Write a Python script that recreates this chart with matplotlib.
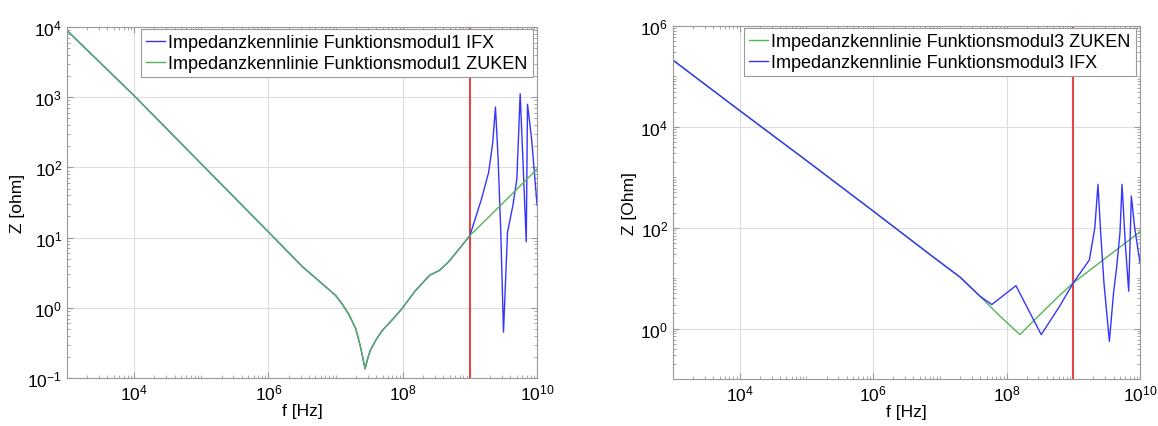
import matplotlib
matplotlib.use("Agg")
import matplotlib.pyplot as plt
from matplotlib.ticker import LogLocator, NullFormatter

plt.rcParams['font.family'] = ['Liberation Sans', 'DejaVu Sans']
plt.rcParams['mathtext.fontset'] = 'custom'
plt.rcParams['mathtext.rm'] = 'Liberation Sans'
plt.rcParams['mathtext.it'] = 'Liberation Sans:italic'

# Funktionsmodul1 (left)
f1_zuken = [1e3, 1e4, 1e5, 1e6, 3.16e6, 6.3e6, 1e7, 1.26e7, 1.58e7, 2e7, 2.34e7, 2.75e7,
            3.0e7, 3.3e7, 4.0e7, 4.9e7, 7.1e7, 9.8e7, 1.5e8, 2.5e8, 3.5e8, 4.8e8,
            6.9e8, 1e9, 3.16e9, 1e10]
z1_zuken = [8900, 1050, 112, 12, 3.9, 2.2, 1.5, 1.12, 0.8, 0.5, 0.28, 0.135,
            0.19, 0.25, 0.35, 0.47, 0.69, 0.98, 1.7, 2.9, 3.4, 4.5,
            6.9, 10.7, 31.6, 95]
f1_ifx = [1e3, 1e4, 1e5, 1e6, 3.16e6, 6.3e6, 1e7, 1.26e7, 1.58e7, 2e7, 2.34e7, 2.75e7,
          3.0e7, 3.3e7, 4.0e7, 4.9e7, 7.1e7, 9.8e7, 1.5e8, 2.5e8, 3.5e8, 4.8e8,
          6.9e8, 1e9, 1.48e9, 1.9e9, 2.19e9, 2.4e9, 2.63e9, 2.88e9, 3.16e9, 3.63e9,
          4.37e9, 5.0e9, 5.6e9, 6.2e9, 6.9e9, 7.2e9, 8.3e9, 1e10]
z1_ifx = [8900, 1050, 112, 12, 3.9, 2.2, 1.5, 1.12, 0.8, 0.5, 0.28, 0.135,
          0.19, 0.25, 0.35, 0.47, 0.69, 0.98, 1.7, 2.9, 3.4, 4.5,
          6.9, 10.7, 35, 85, 229, 724, 132, 12, 0.45, 12,
          29, 69, 1120, 107, 8.7, 794, 251, 29]

# Funktionsmodul3 (right)
f3_zuken = [1e3, 1e4, 1e5, 1e6, 7.08e6, 2e7, 3.98e7, 7.9e7, 1.58e8, 3.16e8, 5.6e8,
            1e9, 3.16e9, 1e10]
z3_zuken = [2.1e5, 2.1e4, 2150, 214, 29.5, 10.5, 4.4, 1.78, 0.76, 1.9, 4.0,
            8.1, 26, 83]
f3_ifx = [1e3, 1e4, 1e5, 1e6, 7.08e6, 2e7, 3.98e7, 6.0e7, 1.38e8, 3.3e8, 6.2e8,
          1e9, 1.74e9, 2.1e9, 2.34e9, 2.57e9, 2.88e9, 3.47e9, 4.0e9, 4.47e9, 5.0e9,
          5.37e9, 6.0e9, 6.76e9, 7.4e9, 8.3e9, 1e10]
z3_ifx = [2.1e5, 2.1e4, 2150, 214, 29.5, 10.5, 4.4, 3.0, 7.1, 0.76, 2.75,
          8.1, 23, 100, 724, 79, 7.9, 0.56, 5.0, 17, 79,
          724, 50, 5.5, 427, 100, 20]

f_marker = 1e9

BLUE = '#3535ff'
GREEN = '#55b555'
RED = '#e04848'


def style_axes(ax, ylim, yticks, ylabel):
    ax.set_xscale('log')
    ax.set_yscale('log')
    ax.set_xlim(1e3, 1e10)
    ax.set_ylim(*ylim)
    ax.set_xticks([1e4, 1e6, 1e8, 1e10])
    ax.xaxis.set_minor_locator(LogLocator(base=10, subs='all', numticks=20))
    ax.xaxis.set_minor_formatter(NullFormatter())
    ax.set_yticks(yticks)
    ax.yaxis.set_minor_locator(LogLocator(base=10, subs='all', numticks=20))
    ax.yaxis.set_minor_formatter(NullFormatter())
    ax.grid(True, which='major', color='#dddddd', linewidth=0.8)
    ax.tick_params(which='both', direction='in', top=True, right=True,
                   colors='#999999', labelcolor='black', labelsize=12.5)
    ax.tick_params(which='minor', length=2)
    ax.tick_params(which='major', length=4)
    for s in ax.spines.values():
        s.set_color('#999999')
    ax.set_xlabel('f [Hz]', fontsize=12.5, labelpad=0)
    ax.set_ylabel(ylabel, fontsize=12.5, labelpad=2)


fig = plt.figure(figsize=(11.58, 4.27), dpi=100)
ax1 = fig.add_axes([0.0579, 0.1124, 0.4059, 0.822])
ax2 = fig.add_axes([0.5812, 0.110, 0.4033, 0.8267])

ax1.axvline(f_marker, color=RED, linewidth=1.5)
ax1.plot(f1_ifx, z1_ifx, color=BLUE, linewidth=1.0,
         label='Impedanzkennlinie Funktionsmodul1 IFX')
ax1.plot(f1_zuken, z1_zuken, color=GREEN, linewidth=1.0,
         label='Impedanzkennlinie Funktionsmodul1 ZUKEN')
style_axes(ax1, (1e-1, 1e4), [1e-1, 1e0, 1e1, 1e2, 1e3, 1e4], 'Z [ohm]')

ax2.axvline(f_marker, color=RED, linewidth=1.5)
ax2.plot(f3_zuken, z3_zuken, color=GREEN, linewidth=1.0,
         label='Impedanzkennlinie Funktionsmodul3 ZUKEN')
ax2.plot(f3_ifx, z3_ifx, color=BLUE, linewidth=1.0,
         label='Impedanzkennlinie Funktionsmodul3 IFX')
style_axes(ax2, (1e-1, 1e6), [1e0, 1e2, 1e4, 1e6], 'Z [Ohm]')

for ax in (ax1, ax2):
    leg = ax.legend(loc='upper right', bbox_to_anchor=(0.995, 1.0), fontsize=13,
                    fancybox=False, edgecolor='#999999', framealpha=1,
                    handlelength=1.0, handletextpad=0.2, borderpad=0.3,
                    labelspacing=0.2, borderaxespad=0.1)
    leg.get_frame().set_linewidth(0.8)

fig.savefig('out.png', dpi=100)
